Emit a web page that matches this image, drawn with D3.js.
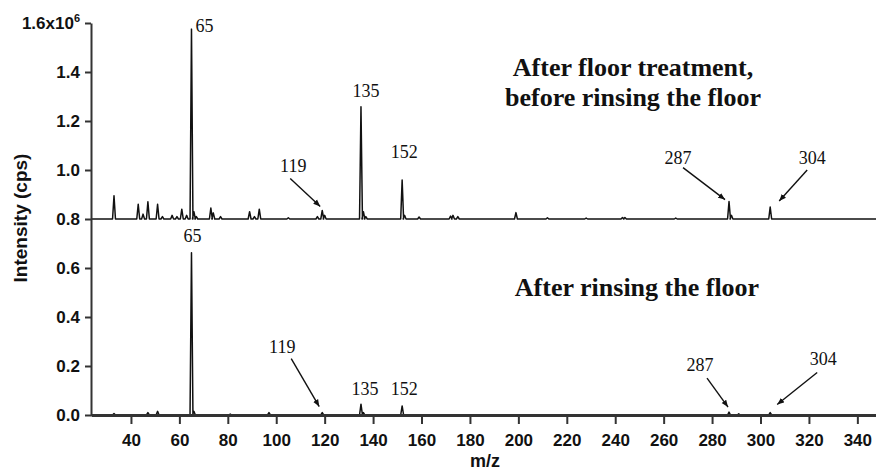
<!DOCTYPE html>
<html>
<head>
<meta charset="utf-8">
<script src="https://cdn.jsdelivr.net/npm/d3@7"></script>
<style>
  body { margin: 0; background: #fff; }
</style>
</head>
<body>
<svg id="chart" width="876" height="470"></svg>
<script>
// peaks: m/z and intensity (x10^6 cps)
const topMz  = [33, 43, 45, 47, 51, 53, 57, 59, 61, 63, 65, 66, 67, 73, 74, 77, 89, 91, 93, 105, 117, 119, 120,
                135, 136, 137, 152, 153, 159, 172, 173, 175, 199, 212, 228, 243, 244, 265, 287, 288, 304];
const topInt = [0.895, 0.86, 0.82, 0.87, 0.86, 0.81, 0.815, 0.81, 0.84, 0.815, 1.575, 0.83, 0.81, 0.845, 0.825, 0.81, 0.83, 0.81, 0.84, 0.805, 0.81, 0.835, 0.815,
                1.258, 0.83, 0.81, 0.959, 0.815, 0.808, 0.812, 0.815, 0.81, 0.826, 0.805, 0.804, 0.806, 0.806, 0.804, 0.871, 0.815, 0.849];
const topBase = 0.8;

const botMz  = [33, 47, 51, 65, 66, 81, 97, 119, 135, 136, 152, 287, 291, 304];
const botInt = [0.006, 0.01, 0.015, 0.662, 0.015, 0.004, 0.01, 0.01, 0.044, 0.01, 0.037, 0.012, 0.005, 0.01];
const botBase = 0;

const xTicks = [40, 60, 80, 100, 120, 140, 160, 180, 200, 220, 240, 260, 280, 300, 320, 340];
const yTicks = [0, 0.2, 0.4, 0.6, 0.8, 1.0, 1.2, 1.4, 1.6];
const xDomain = [23.5, 347.7];
const yDomain = [0, 1.6];

const titleTop = ["After floor treatment,", "before rinsing the floor"];
const titleBot = "After rinsing the floor";

// annotation layout: offsets (px) from the peak apex
const annTop = [
  { mz: 65,  dx: 4,   dy: 3,   anchor: "start" },
  { mz: 135, dx: 5,   dy: -10 },
  { mz: 152, dx: 2,   dy: -22 },
  { mz: 119, dx: -29, dy: -38, arrow: [-32, -32, -2, -4] },
  { mz: 287, dx: -51, dy: -38, arrow: [-46, -34, -4, -2] },
  { mz: 304, dx: 42,  dy: -43, arrow: [37, -37, 9, -6] }
];
const annBot = [
  { mz: 65,  dx: 1,   dy: -11 },
  { mz: 119, dx: -40, dy: -60, arrow: [-31, -54, -3, -6] },
  { mz: 135, dx: 4,   dy: -9 },
  { mz: 152, dx: 2,   dy: -11 },
  { mz: 287, dx: -29, dy: -41, arrow: [-22, -34, -1, -5] },
  { mz: 304, dx: 53,  dy: -48, arrow: [47, -40, 7, -8] }
];

const svg = d3.select("#chart");
const margin = { left: 91, right: 876, top: 23, bottom: 415 };

const x = d3.scaleLinear().domain(xDomain).range([margin.left, margin.right]);
const y = d3.scaleLinear().domain(yDomain).range([margin.bottom, margin.top]);

const sans = "'Liberation Sans', Arial, sans-serif";
const serif = "'Liberation Serif', 'Times New Roman', serif";

// spectra
const buildPoints = (mzs, ints, base) => {
  const hw = 0.6;
  let pts = [[xDomain[0], base]];
  mzs.forEach((m, i) => {
    pts.push([m - hw, base], [m, ints[i]], [m + hw, base]);
  });
  pts.push([xDomain[1], base]);
  return pts;
};

const line = d3.line().x(d => x(d[0])).y(d => y(d[1]));

svg.append("path")
  .datum(buildPoints(topMz, topInt, topBase))
  .attr("d", line)
  .attr("fill", "none")
  .attr("stroke", "#111")
  .attr("stroke-width", 1.5)
  .attr("stroke-linejoin", "round");

svg.append("path")
  .datum(buildPoints(botMz, botInt, botBase))
  .attr("d", line)
  .attr("fill", "none")
  .attr("stroke", "#111")
  .attr("stroke-width", 1.5)
  .attr("stroke-linejoin", "round");

// axes
const xAxis = svg.append("g")
  .attr("transform", `translate(0,${margin.bottom})`)
  .call(d3.axisBottom(x).tickValues(xTicks).tickSize(9).tickSizeOuter(0).tickPadding(10));
xAxis.select(".domain").attr("stroke", "#333").attr("stroke-width", 3);
xAxis.selectAll(".tick line").attr("stroke", "#333").attr("stroke-width", 2);
xAxis.selectAll(".tick text")
  .attr("fill", "#111")
  .style("font", `bold 17px ${sans}`);

const yAxis = svg.append("g")
  .attr("transform", `translate(${margin.left},0)`)
  .call(d3.axisLeft(y).tickValues(yTicks).tickSize(6).tickSizeOuter(0).tickPadding(5)
    .tickFormat(d => d.toFixed(1)));
yAxis.select(".domain").attr("stroke", "#333").attr("stroke-width", 2);
yAxis.selectAll(".tick line").attr("stroke", "#333").attr("stroke-width", 2);
yAxis.selectAll(".tick text")
  .attr("fill", "#111")
  .style("font", `bold 17px ${sans}`);

// top tick gets the x10^6 multiplier
yAxis.selectAll(".tick text")
  .filter(d => d === 1.6)
  .text(null)
  .call(t => {
    t.append("tspan").text("1.6x10");
    t.append("tspan").text("6").attr("dy", -7).style("font-size", "11px");
  });

svg.append("text")
  .attr("transform", `translate(27,218) rotate(-90)`)
  .attr("text-anchor", "middle")
  .style("font", `bold 19px ${sans}`)
  .attr("fill", "#111")
  .text("Intensity (cps)");

svg.append("text")
  .attr("x", 485)
  .attr("y", 467)
  .attr("text-anchor", "middle")
  .style("font", `bold 18px ${sans}`)
  .attr("fill", "#111")
  .text("m/z");

// titles
svg.append("text")
  .attr("text-anchor", "middle")
  .style("font", `bold 26px ${serif}`)
  .attr("fill", "#111")
  .selectAll("tspan")
  .data(titleTop)
  .join("tspan")
  .attr("x", 633)
  .attr("y", (d, i) => 76 + i * 30)
  .text(d => d);

svg.append("text")
  .attr("x", 637)
  .attr("y", 296)
  .attr("text-anchor", "middle")
  .style("font", `bold 26px ${serif}`)
  .attr("fill", "#111")
  .text(titleBot);

// peak labels and arrows
svg.append("defs").append("marker")
  .attr("id", "head")
  .attr("viewBox", "0 0 10 10")
  .attr("refX", 10)
  .attr("refY", 5)
  .attr("markerWidth", 7)
  .attr("markerHeight", 7)
  .attr("markerUnits", "userSpaceOnUse")
  .attr("orient", "auto")
  .append("path")
  .attr("d", "M0,1 L10,5 L0,9 Z")
  .attr("fill", "#111");

const drawAnnotations = (list, mzs, ints) => {
  list.forEach(a => {
    const px = x(a.mz);
    const py = y(ints[mzs.indexOf(a.mz)]);
    svg.append("text")
      .attr("x", px + a.dx)
      .attr("y", py + a.dy)
      .attr("text-anchor", a.anchor || "middle")
      .style("font", `18px ${serif}`)
      .attr("fill", "#111")
      .text(a.mz);
    if (a.arrow) {
      svg.append("line")
        .attr("x1", px + a.arrow[0])
        .attr("y1", py + a.arrow[1])
        .attr("x2", px + a.arrow[2])
        .attr("y2", py + a.arrow[3])
        .attr("stroke", "#111")
        .attr("stroke-width", 1.4)
        .attr("marker-end", "url(#head)");
    }
  });
};

drawAnnotations(annTop, topMz, topInt);
drawAnnotations(annBot, botMz, botInt);
</script>
</body>
</html>
